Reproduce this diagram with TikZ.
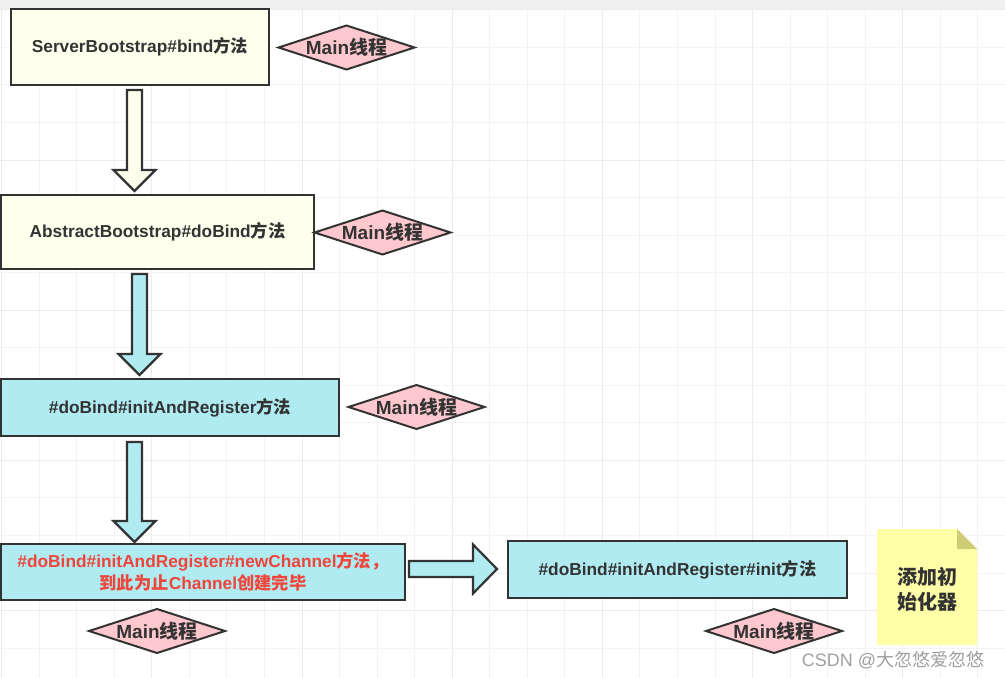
\documentclass[tikz,border=0pt]{standalone}
\usepackage{fontspec}
\setmainfont{Liberation Sans}
\newfontfamily\cjk{Noto Sans CJK SC}
\usetikzlibrary{shapes.geometric,calc}
\definecolor{dk}{HTML}{333333}
\definecolor{ivory}{HTML}{FFFFEE}
\definecolor{bluec}{HTML}{B0EBF2}
\definecolor{pinkc}{HTML}{FFC8CE}
\definecolor{redt}{HTML}{F0453A}
\definecolor{notec}{HTML}{FFFFA8}
\definecolor{foldc}{HTML}{CDCD78}
\definecolor{gridminor}{HTML}{F3F3F3}
\definecolor{gridmajor}{HTML}{EBEBEB}
\definecolor{stripc}{HTML}{F0F0F0}
\definecolor{wmark}{HTML}{A0A0A0}
\newcommand\varrow[3]{\draw[arrowst, fill=#3] ($(#1)+(-7.5,0)$) -- ($(#2)+(-7.5,-21)$) -- ($(#2)+(-21,-21)$) -- (#2) -- ($(#2)+(21,-21)$) -- ($(#2)+(7.5,-21)$) -- ($(#1)+(7.5,0)$) -- cycle;}
\begin{document}
\begin{tikzpicture}[x=1pt,y=-1pt,
  box/.style={draw=dk, line width=2.2pt, rectangle, inner sep=0pt, outer sep=0pt, text=dk, align=center,
    font=\bfseries\fontsize{17.3}{22}\selectfont},
  dia/.style={draw=dk, line width=2pt, shape=diamond, fill=pinkc, inner sep=0pt, outer sep=0pt,
    minimum width=136pt, minimum height=44pt, text=dk, font=\bfseries\fontsize{19}{22}\selectfont},
  arrowst/.style={draw=dk, line width=2.2pt, line join=miter},
  minor/.style={draw=gridminor, line width=1pt},
  major/.style={draw=gridmajor, line width=1pt}]
\useasboundingbox (0,0) rectangle (1005,678);
\fill[white] (0,0) rectangle (1005,678);
% grid
\foreach \k in {0,...,26}{
  \pgfmathtruncatemacro\m{mod(\k,4)}
  \ifnum\m=0 \draw[major] ({1.6+37.55*\k},9.8) -- ({1.6+37.55*\k},678);
  \else \draw[minor] ({1.6+37.55*\k},9.8) -- ({1.6+37.55*\k},678); \fi
}
\foreach \k in {1,...,18}{
  \pgfmathtruncatemacro\m{mod(\k,4)}
  \ifnum\m=0 \draw[major] (0,{9.8+37.55*\k}) -- (1005,{9.8+37.55*\k});
  \else \draw[minor] (0,{9.8+37.55*\k}) -- (1005,{9.8+37.55*\k}); \fi
}
\fill[stripc] (0,0) rectangle (1005,9.5);
\draw[gridmajor, line width=0.8pt] (0,9.5) -- (1005,9.5);

% boxes
\node[box, fill=ivory, minimum width=258pt, minimum height=76pt] (b1) at (140,47) {ServerBootstrap\#bind{\cjk 方法}};
\node[box, fill=ivory, minimum width=313pt, minimum height=74pt] (b2) at (157.5,232) {AbstractBootstrap\#doBind{\cjk 方法}};
\node[box, fill=bluec, minimum width=338pt, minimum height=57pt] (b3) at (170,407.5) {\#doBind\#initAndRegister{\cjk 方法}};
\node[box, fill=bluec, minimum width=404pt, minimum height=56pt, text=redt] (b4) at (203,572) {\#doBind\#initAndRegister\#newChannel{\cjk 方法，}\\{\cjk 到此为止}Channel{\cjk 创建完毕}};
\node[box, fill=bluec, minimum width=339pt, minimum height=57pt] (b5) at (677.5,569.5) {\#doBind\#initAndRegister\#init{\cjk 方法}};

% diamonds
\node[dia] (d1) at (346.5,47.5) {\makebox[0pt]{Main{\cjk 线程}}};
\node[dia] (d2) at (382.5,232.5) {\makebox[0pt]{Main{\cjk 线程}}};
\node[dia] (d3) at (416.5,407) {\makebox[0pt]{Main{\cjk 线程}}};
\node[dia] (d4) at (157,631) {\makebox[0pt]{Main{\cjk 线程}}};
\node[dia] (d5) at (774,631) {\makebox[0pt]{Main{\cjk 线程}}};

% block arrows
\coordinate (a1s) at (134.5,90);  \coordinate (a1e) at (134.5,191);
\coordinate (a2s) at (139.5,274); \coordinate (a2e) at (139.5,375);
\coordinate (a3s) at (134.5,442); \coordinate (a3e) at (134.5,542);
\varrow{a1s}{a1e}{ivory}
\varrow{a2s}{a2e}{bluec}
\varrow{a3s}{a3e}{bluec}
\coordinate (r1s) at (409,569); \coordinate (r1e) at (497,569);
\draw[arrowst, fill=bluec] ($(r1s)+(0,-8)$) -- ($(r1e)+(-24,-8)$) -- ($(r1e)+(-24,-24.5)$) -- (r1e)
  -- ($(r1e)+(-24,24.5)$) -- ($(r1e)+(-24,8)$) -- ($(r1s)+(0,8)$) -- cycle;

% note
\fill[notec] (877,529) -- (957,529) -- (977,549) -- (977,645) -- (877,645) -- cycle;
\fill[foldc] (957,529) -- (977,549) -- (957,549) -- cycle;
\node[text=dk, align=center, font=\cjk\bfseries\fontsize{20}{25}\selectfont, inner sep=0pt] (nt) at (927,589.5) {添加初\\始化器};

% watermark
\node[text=wmark, font=\fontsize{18}{20}\selectfont, inner sep=0pt] (wm) at (893,660) {CSDN @{\cjk 大忽悠爱忽悠}};
\end{tikzpicture}
\end{document}
